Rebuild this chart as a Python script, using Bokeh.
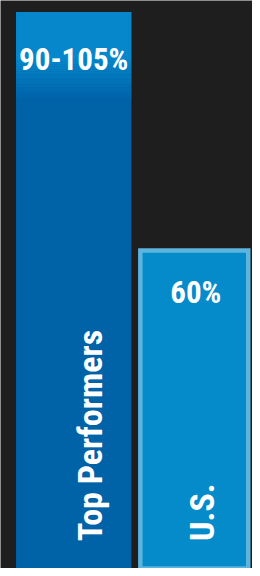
import numpy as np
from bokeh.plotting import figure
from bokeh.models import Range1d
from bokeh.core.properties import value
from bokeh.embed import file_html
from bokeh.resources import INLINE

# ---- data ----
categories = ["Top Performers", "U.S."]
bar_values = [105, 60]
value_labels = ["90-105%", "60%"]

# ---- style ----
BG = "#1e1e1e"
FONT = "Roboto Condensed"
TOP_BLUE = "#0787cb"
DARK_BLUE = "#0063a8"
US_FILL = "#068bca"
US_BORDER = "#5cb4df"

idx = np.arange(len(categories))

p = figure(width=252, height=568, output_backend="svg", toolbar_location=None,
           x_range=Range1d(-0.607, 1.4826), y_range=Range1d(0, 107.17),
           min_border=0, background_fill_color=BG, border_fill_color=BG,
           outline_line_color=None)
p.axis.visible = False
p.grid.visible = False

# Left bar (Top Performers) with a vertical gradient near its top
x0 = idx[0]
v0 = bar_values[0]
W0 = 0.956
p.vbar(x=[x0], top=[v0], bottom=-2, width=W0, fill_color=DARK_BLUE, line_color=None)
g_top, g_bot = 96.0, 88.5
p.vbar(x=[x0], top=[v0], bottom=g_top, width=W0, fill_color=TOP_BLUE, line_color=None)
n = 24
c1 = np.array([0x07, 0x87, 0xcb]); c2 = np.array([0x00, 0x63, 0xa8])
edges = np.linspace(g_top, g_bot, n + 1)
for i in range(n):
    t = (i + 0.5) / n
    c = (c1 * (1 - t) + c2 * t).astype(int)
    col = "#%02x%02x%02x" % tuple(c)
    p.quad(left=[x0 - W0 / 2], right=[x0 + W0 / 2], top=[edges[i] + 0.03], bottom=[edges[i + 1]],
           fill_color=col, line_color=None)

# Right bar (U.S.) with light border
x1 = idx[1]
v1 = bar_values[1]
p.vbar(x=[x1], top=[v1], bottom=-2, width=0.895, fill_color=US_FILL,
       line_color=US_BORDER, line_width=4.5, line_join="miter")

# value labels
p.text(x=[x0], y=[v0], text=[value_labels[0]], text_align="center", text_baseline="alphabetic",
       y_offset=47.7, text_color="white", text_font=value(FONT), text_font_style="bold",
       text_font_size="31px")
p.text(x=[x1], y=[v1], text=[value_labels[1]], text_align="center", text_baseline="alphabetic",
       x_offset=1.5, y_offset=42, text_color="white", text_font=value(FONT), text_font_style="bold",
       text_font_size="31px")

# category labels (vertical)
p.text(x=[x0], y=[0], text=[categories[0]], angle=np.pi / 2, text_align="left",
       text_baseline="alphabetic", x_offset=16.6, y_offset=-27.6, text_color="white",
       text_font=value(FONT), text_font_style="bold", text_font_size="34px")
p.text(x=[x1], y=[0], text=[categories[1]], angle=np.pi / 2, text_align="left",
       text_baseline="alphabetic", x_offset=8, y_offset=-27.6, text_color="white",
       text_font=value(FONT), text_font_style="bold", text_font_size="34px")

html = file_html(p, INLINE)
html = html.replace("<body>", '<body style="background:%s">' % BG, 1)
open("out.html", "w").write(html)
